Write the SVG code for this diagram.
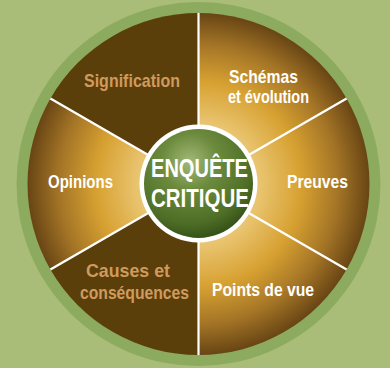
<svg xmlns="http://www.w3.org/2000/svg" width="390" height="368" viewBox="0 0 390 368">
  <defs>
    <radialGradient id="gold" gradientUnits="userSpaceOnUse" cx="198.5" cy="184" r="171">
      <stop offset="0.33" stop-color="#ebc877"/>
      <stop offset="0.6" stop-color="#d7a131"/>
      <stop offset="0.82" stop-color="#a37426"/>
      <stop offset="1" stop-color="#684514"/>
    </radialGradient>
    <radialGradient id="green" cx="0.42" cy="0.3" r="0.75" fx="0.42" fy="0.3">
      <stop offset="0" stop-color="#a2b978"/>
      <stop offset="0.35" stop-color="#6b8a3c"/>
      <stop offset="0.75" stop-color="#4e6e27"/>
      <stop offset="1" stop-color="#2f4a14"/>
    </radialGradient>
    <style>
      .gold { fill: url(#gold); }
      .dark { fill: #5a3f0b; }
      .lbl { font-family: "Liberation Sans Narrow", "Liberation Sans", Arial, sans-serif; font-weight: bold; font-size: 19px; text-anchor: middle; }
      .w { fill: #ffffff; }
      .t { fill: #d09a5c; }
      .title { font-family: "Liberation Sans Narrow", "Liberation Sans", Arial, sans-serif; font-weight: bold; font-size: 25px; text-anchor: middle; fill: #ffffff; }
      .div { stroke: #ffffff; stroke-width: 2.2; }
    </style>
  </defs>
  <rect x="0" y="0" width="390" height="368" fill="#a9bd78"/>
  <circle cx="198.5" cy="184" r="182" fill="#8dab5e"/>

  <g id="schemas">
    <path class="gold" d="M198.5 184 L198.5 13 A171 171 0 0 1 346.59 98.5 Z"/>
    <text class="lbl w" x="263.5" y="83" textLength="69" lengthAdjust="spacingAndGlyphs">Schémas</text>
    <text class="lbl w" x="268.5" y="103" textLength="81" lengthAdjust="spacingAndGlyphs">et évolution</text>
  </g>
  <g id="preuves">
    <path class="gold" d="M198.5 184 L346.59 98.5 A171 171 0 0 1 346.59 269.5 Z"/>
    <text class="lbl w" x="317.5" y="188" textLength="61" lengthAdjust="spacingAndGlyphs">Preuves</text>
  </g>
  <g id="points-de-vue">
    <path class="gold" d="M198.5 184 L346.59 269.5 A171 171 0 0 1 198.5 355 Z"/>
    <text class="lbl w" x="263" y="296" textLength="102" lengthAdjust="spacingAndGlyphs">Points de vue</text>
  </g>
  <g id="causes">
    <path class="dark" d="M198.5 184 L198.5 355 A171 171 0 0 1 50.41 269.5 Z"/>
    <text class="lbl t" x="128" y="277" textLength="84" lengthAdjust="spacingAndGlyphs">Causes et</text>
    <text class="lbl t" x="134.5" y="299" textLength="109" lengthAdjust="spacingAndGlyphs">conséquences</text>
  </g>
  <g id="opinions">
    <path class="gold" d="M198.5 184 L50.41 269.5 A171 171 0 0 1 50.41 98.5 Z"/>
    <text class="lbl w" x="80.5" y="188" textLength="65" lengthAdjust="spacingAndGlyphs">Opinions</text>
  </g>
  <g id="signification">
    <path class="dark" d="M198.5 184 L50.41 98.5 A171 171 0 0 1 198.5 13 Z"/>
    <text class="lbl t" x="132" y="87" textLength="96" lengthAdjust="spacingAndGlyphs">Signification</text>
  </g>

  <g id="dividers">
    <line class="div" x1="198.5" y1="184" x2="198.5" y2="13"/>
    <line class="div" x1="198.5" y1="184" x2="346.59" y2="98.5"/>
    <line class="div" x1="198.5" y1="184" x2="346.59" y2="269.5"/>
    <line class="div" x1="198.5" y1="184" x2="198.5" y2="355"/>
    <line class="div" x1="198.5" y1="184" x2="50.41" y2="269.5"/>
    <line class="div" x1="198.5" y1="184" x2="50.41" y2="98.5"/>
  </g>

  <g id="center">
    <circle cx="198.5" cy="183.5" r="59" fill="#ffffff"/>
    <circle cx="198.5" cy="183.5" r="54.5" fill="url(#green)"/>
    <text class="title" x="199.5" y="177" textLength="97" lengthAdjust="spacingAndGlyphs">ENQUÊTE</text>
    <text class="title" x="200" y="207" textLength="98" lengthAdjust="spacingAndGlyphs">CRITIQUE</text>
  </g>
</svg>
